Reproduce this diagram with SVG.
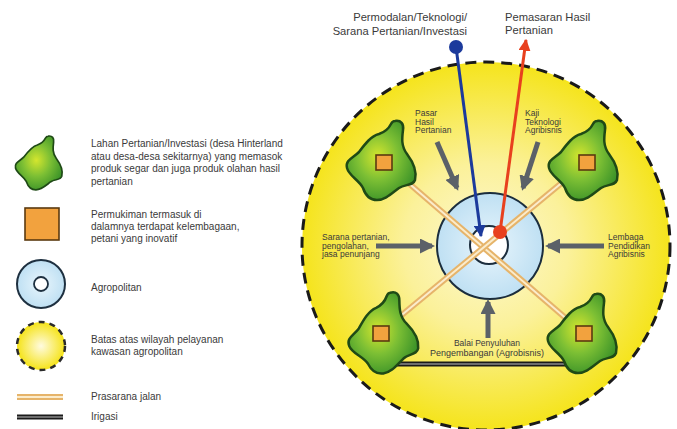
<svg xmlns="http://www.w3.org/2000/svg" width="677" height="429" viewBox="0 0 677 429">
<style>
text{font-family:"Liberation Sans",Arial,sans-serif;fill:#3a3a3a}
.lg{font-size:10px}
.sm{font-size:8.5px}
.top{font-size:11.2px}
.blob{fill:url(#gGreen);stroke:#1f4a16;stroke-width:2.5;stroke-linejoin:round}
.sq{fill:#f2a23e;stroke:#5a3a10;stroke-width:1.6}
.roadO{stroke:#e6b46a;stroke-width:6;fill:none}
.roadI{stroke:#fbeccc;stroke-width:2;fill:none}
.irO{stroke:#1a1a1a;stroke-width:5;fill:none}
.irI{stroke:#8a8a8a;stroke-width:1.5;fill:none}
.garrow{stroke:#5b6168;stroke-width:5;fill:none;marker-end:url(#mGray)}
</style>
<defs>
<radialGradient id="gYellow" cx="50%" cy="50%" r="50%">
<stop offset="0" stop-color="#fdf8d2"/>
<stop offset="0.45" stop-color="#fbf19a"/>
<stop offset="1" stop-color="#f5e41c"/>
</radialGradient>
<radialGradient id="gYellowL" cx="50%" cy="50%" r="50%">
<stop offset="0" stop-color="#fffbe0"/>
<stop offset="1" stop-color="#f5e318"/>
</radialGradient>
<radialGradient id="gGreen" cx="45%" cy="45%" r="60%">
<stop offset="0" stop-color="#d4e62e"/>
<stop offset="0.5" stop-color="#7cbf34"/>
<stop offset="1" stop-color="#3a9228"/>
</radialGradient>
<radialGradient id="gBlue" cx="50%" cy="50%" r="50%">
<stop offset="0" stop-color="#e8f5fc"/>
<stop offset="1" stop-color="#bfe0f3"/>
</radialGradient>
<path id="blobShape" d="M12,-41 C18,-42 21,-38 20,-32 C19,-24 18,-16 24,-8 C30,0 34,10 32,18 C30,24 22,22 16,26 C8,32 2,38 -6,38 C-14,38 -18,32 -20,26 C-24,18 -34,14 -36,6 C-38,-2 -30,-4 -24,-10 C-18,-18 -12,-26 -4,-28 C2,-30 6,-34 8,-38 C9,-40 10,-41 12,-41 Z"/>
<marker id="mGray" viewBox="0 0 10 10" refX="8" refY="5" markerUnits="userSpaceOnUse" markerWidth="15" markerHeight="15" orient="auto">
<path d="M0,0 L10,5 L0,10 Z" fill="#5b6168"/>
</marker>
<marker id="mBlue" viewBox="0 0 10 10" refX="9" refY="5" markerUnits="userSpaceOnUse" markerWidth="12" markerHeight="12" orient="auto">
<path d="M0,0 L10,5 L0,10 Z" fill="#1c3a9c"/>
</marker>
<marker id="mRed" viewBox="0 0 10 10" refX="9" refY="5" markerUnits="userSpaceOnUse" markerWidth="12" markerHeight="12" orient="auto">
<path d="M0,0 L10,5 L0,10 Z" fill="#e8401e"/>
</marker>
</defs>
<rect width="677" height="429" fill="#ffffff"/>

<!-- Legend -->
<g id="legend">
<g id="leg-lahan">
<use href="#blobShape" class="blob" transform="translate(40,164) scale(0.68)"/>
<text class="lg" x="91" y="147">Lahan Pertanian/Investasi (desa Hinterland</text>
<text class="lg" x="91" y="159.5">atau desa-desa sekitarnya) yang memasok</text>
<text class="lg" x="91" y="172">produk segar dan juga produk olahan hasil</text>
<text class="lg" x="91" y="184.5">pertanian</text>
</g>
<g id="leg-permukiman">
<rect class="sq" x="25" y="208" width="34" height="32"/>
<text class="lg" x="91" y="218">Permukiman termasuk di</text>
<text class="lg" x="91" y="230">dalamnya terdapat kelembagaan,</text>
<text class="lg" x="91" y="242">petani yang inovatif</text>
</g>
<g id="leg-agropolitan">
<circle cx="41" cy="284" r="24" fill="url(#gBlue)" stroke="#1e3040" stroke-width="2"/>
<circle cx="41" cy="284" r="7" fill="#ffffff" stroke="#1e3040" stroke-width="1.8"/>
<text class="lg" x="91" y="291">Agropolitan</text>
</g>
<g id="leg-batas">
<circle cx="41" cy="346" r="24" fill="url(#gYellowL)" stroke="#2a2a2a" stroke-width="2.5" stroke-dasharray="6 5"/>
<text class="lg" x="91" y="343">Batas atas wilayah pelayanan</text>
<text class="lg" x="91" y="355">kawasan agropolitan</text>
</g>
<g id="leg-jalan">
<line class="roadO" x1="17" y1="397" x2="63" y2="397"/>
<line class="roadI" x1="17" y1="397" x2="63" y2="397"/>
<text class="lg" x="91" y="400">Prasarana jalan</text>
</g>
<g id="leg-irigasi">
<line class="irO" x1="17" y1="417" x2="63" y2="417" stroke="#444"/>
<line class="irI" x1="17" y1="417" x2="63" y2="417"/>
<text class="lg" x="91" y="420">Irigasi</text>
</g>
</g>

<!-- Service area -->
<g id="service-area">
<circle cx="486" cy="246" r="184" fill="url(#gYellow)" stroke="#1a1a1a" stroke-width="3" stroke-dasharray="11 7"/>
</g>

<g id="agropolitan">
<circle cx="490" cy="246" r="53" fill="url(#gBlue)" stroke="#1b2d3d" stroke-width="2"/>
<circle cx="489" cy="245" r="19" fill="#ffffff" stroke="#1b2d3d" stroke-width="2"/>
</g>

<g id="connectors">
<g id="roads">
<line class="roadO" x1="384" y1="162" x2="583" y2="333"/>
<line class="roadI" x1="384" y1="162" x2="583" y2="333"/>
<line class="roadO" x1="587" y1="162" x2="380" y2="333"/>
<line class="roadI" x1="587" y1="162" x2="380" y2="333"/>
</g>
<g id="irrigation">
<line class="irO" x1="380" y1="364" x2="578" y2="364"/>
<line class="irI" x1="380" y1="364" x2="578" y2="364"/>
</g>
</g>

<g id="village-nw">
<use href="#blobShape" class="blob" transform="translate(383,162)"/>
<rect class="sq" x="376" y="155" width="16" height="15"/>
</g>
<g id="village-ne">
<use href="#blobShape" class="blob" transform="translate(585,162)"/>
<rect class="sq" x="579" y="155" width="16" height="15"/>
</g>
<g id="village-sw">
<use href="#blobShape" class="blob" transform="translate(384,335) rotate(-8)"/>
<rect class="sq" x="373" y="326" width="16" height="15"/>
</g>
<g id="village-se">
<use href="#blobShape" class="blob" transform="translate(584,335)"/>
<rect class="sq" x="576" y="326" width="16" height="15"/>
</g>

<g id="flows">
<line class="garrow" x1="437" y1="142" x2="457" y2="188"/>
<line class="garrow" x1="538" y1="142" x2="523" y2="188"/>
<line class="garrow" x1="376" y1="246" x2="432" y2="246"/>
<line class="garrow" x1="604" y1="246" x2="548" y2="246"/>
<line class="garrow" x1="488" y1="338" x2="488" y2="302"/>
<line x1="456" y1="47" x2="481" y2="236" stroke="#1c3a9c" stroke-width="3" marker-end="url(#mBlue)"/>
<circle cx="456" cy="47" r="7" fill="#1c3a9c"/>
<line x1="500" y1="232" x2="526" y2="40" stroke="#e8401e" stroke-width="3" marker-end="url(#mRed)"/>
<circle cx="500" cy="232" r="7" fill="#e8401e"/>
</g>

<g id="labels">
<text class="top" x="467" y="20.5" text-anchor="end">Permodalan/Teknologi/</text>
<text class="top" x="467" y="34.5" text-anchor="end">Sarana Pertanian/Investasi</text>
<text class="top" x="505" y="20.5">Pemasaran Hasil</text>
<text class="top" x="505" y="34">Pertanian</text>
<text class="sm" x="415" y="116">Pasar</text>
<text class="sm" x="415" y="124.5">Hasil</text>
<text class="sm" x="415" y="133">Pertanian</text>
<text class="sm" x="525" y="116">Kaji</text>
<text class="sm" x="525" y="124.5">Teknologi</text>
<text class="sm" x="525" y="133">Agribisnis</text>
<text class="sm" x="322" y="240">Sarana pertanian,</text>
<text class="sm" x="322" y="248.5">pengolahan,</text>
<text class="sm" x="322" y="257">jasa penunjang</text>
<text class="sm" x="608" y="240">Lembaga</text>
<text class="sm" x="608" y="248.5">Pendidikan</text>
<text class="sm" x="608" y="257">Agribisnis</text>
<text class="sm" x="487" y="346" text-anchor="middle" font-size="9">Balai Penyuluhan</text>
<text class="sm" x="487" y="356" text-anchor="middle" style="font-size:9px">Pengembangan (Agrobisnis)</text>
</g>
</svg>
